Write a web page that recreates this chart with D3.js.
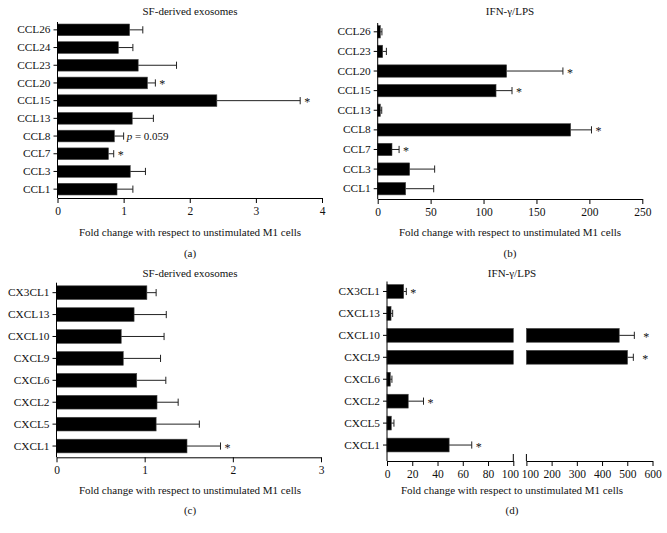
<!DOCTYPE html>
<html><head><meta charset="utf-8">
<script src="https://cdn.jsdelivr.net/npm/d3@7"></script>
<style>
body{margin:0;background:#fff;}
svg{display:block;}
text{font-family:"Liberation Serif","Times New Roman",serif;fill:#111;}
</style></head>
<body>
<svg id="chart" width="667" height="533"></svg>
<script>
// ---------- data ----------
const catsA = ["CCL26","CCL24","CCL23","CCL20","CCL15","CCL13","CCL8","CCL7","CCL3","CCL1"];
const valsA = [1.09,0.92,1.22,1.36,2.41,1.13,0.86,0.77,1.10,0.90];
const errA  = [1.29,1.14,1.80,1.48,3.67,1.45,1.00,0.85,1.33,1.14];
const noteA = ["","","","*","*","","p = 0.059","*","",""];
const ticksA = [0,1,2,3,4];

const catsB = ["CCL26","CCL23","CCL20","CCL15","CCL13","CCL8","CCL7","CCL3","CCL1"];
const valsB = [2.5,4.7,121.8,111.8,2.5,182.3,13.5,30.2,26.4];
const errB  = [4.0,8.2,175,126.9,3.8,202,20.2,53.8,52.9];
const noteB = ["","","*","*","","*","*","",""];
const ticksB = [0,50,100,150,200,250];

const catsC = ["CX3CL1","CXCL13","CXCL10","CXCL9","CXCL6","CXCL2","CXCL5","CXCL1"];
const valsC = [1.025,0.88,0.734,0.757,0.91,1.14,1.13,1.48];
const errC  = [1.13,1.245,1.22,1.18,1.24,1.38,1.62,1.86];
const noteC = ["","","","","","","","*"];
const ticksC = [0,1,2,3];

const catsD = ["CX3CL1","CXCL13","CXCL10","CXCL9","CXCL6","CXCL2","CXCL5","CXCL1"];
const valsD = [13.2,3.2,468,501,2.6,16.8,3.4,49.2];
const errD  = [15.3,4.5,528,524,3.9,28.9,5.5,67.1];
const noteD = ["*","","*","*","","*","","*"];
const ticksDLow = [0,20,40,60,80,100];
const ticksDHigh = [100,200,300,400,500,600];

const titles = ["SF-derived exosomes","IFN-\u03b3/LPS","SF-derived exosomes","IFN-\u03b3/LPS"];
const letters = ["(a)","(b)","(c)","(d)"];
const xTitle = "Fold change with respect to unstimulated M1 cells";

// ---------- drawing ----------
const svg = d3.select("#chart");
const FS = 11;

function drawPanel(o){
  const g = svg.append("g");
  const y = d3.scaleBand().domain(o.cats).range(o.yRange).paddingInner(o.pad).paddingOuter(o.pad/2);
  const bh = y.bandwidth();
  const xs = o.xs;
  o.cats.forEach((c,i)=>{
    const v = o.vals[i];
    const segs = o.segments ? o.segments(v) : [[0,v]];
    segs.forEach(s=>{
      g.append("rect").attr("x",xs(s[0])).attr("y",y(c)).attr("width",Math.max(0.8,xs(s[1])-xs(s[0]))).attr("height",bh)
        .attr("fill","#000").attr("stroke","#444").attr("stroke-width",0.6);
    });
    const cy = y(c)+bh/2;
    const xe = xs(o.errs[i]);
    g.append("line").attr("x1",xs(v)).attr("x2",xe).attr("y1",cy).attr("y2",cy).attr("stroke","#222").attr("stroke-width",1);
    g.append("line").attr("x1",xe).attr("x2",xe).attr("y1",cy-3.6).attr("y2",cy+3.6).attr("stroke","#222").attr("stroke-width",1);
    const n = o.notes[i];
    if(n){
      if(n==="*"){
        g.append("text").attr("x",xe+(o.starOff?o.starOff(i):4)).attr("y",cy+5.5).attr("font-size",12).attr("fill","#555").text("*");
      } else {
        const t = g.append("text").attr("x",xe+3).attr("y",cy+4).attr("font-size",FS);
        t.append("tspan").attr("font-style","italic").text(n.split(" ")[0]);
        t.append("tspan").text(" "+n.split(" ").slice(1).join(" "));
      }
    }
  });
  const ya = g.append("g").attr("transform",`translate(${o.x0},0)`).call(d3.axisLeft(y).tickSize(4).tickPadding(3).tickSizeOuter(0));
  ya.select(".domain").remove();
  ya.selectAll("text").attr("font-size",FS+0.3).attr("fill","#111").style("font-family","Liberation Serif");
  g.append("line").attr("x1",o.x0).attr("x2",o.x0).attr("y1",o.yRange[0]+1).attr("y2",o.axisY).attr("stroke","#000");
  o.xAxes.forEach(a=>{
    const xa = g.append("g").attr("transform",`translate(0,${o.axisY})`)
      .call(d3.axisBottom(a.scale).tickValues(a.ticks).tickSize(5).tickPadding(4).tickSizeOuter(0).tickFormat(d3.format("d")));
    xa.selectAll("text").attr("font-size",FS+0.5).attr("fill","#111").style("font-family","Liberation Serif");
    xa.select(".domain").attr("stroke","#000");
    if(a.anchorEdge){
      // the two "100" labels at the break sit edge to edge
      xa.selectAll(".tick").filter(d=>d===a.edgeValue).select("text")
        .attr("text-anchor",a.anchorEdge).attr("dx",a.anchorEdge==="end"?"0.45em":"-0.45em");
    }
  });
  if(o.breaks){
    o.breaks.forEach(bx=>{
      g.append("line").attr("x1",bx).attr("x2",bx).attr("y1",o.axisY-7).attr("y2",o.axisY).attr("stroke","#000");
    });
  }
  g.append("text").attr("x",o.cx).attr("y",o.titleY).attr("text-anchor","middle").attr("font-size",FS).text(o.title);
  g.append("text").attr("x",o.cx).attr("y",o.labelY).attr("text-anchor","middle").attr("font-size",FS).text(xTitle);
  g.append("text").attr("x",o.cx).attr("y",o.letterY).attr("text-anchor","middle").attr("font-size",FS).text(o.letter);
}

// (a)
const xA = d3.scaleLinear().domain([0,4]).range([57.5,322]);
drawPanel({cats:catsA,vals:valsA,errs:errA,notes:noteA,pad:0.34,yRange:[21,198],axisY:198,x0:57.5,
  xs:xA,xAxes:[{scale:xA,ticks:ticksA}],cx:190,titleY:15,labelY:236,letterY:257,title:titles[0],letter:letters[0]});

// (b)
const xB = d3.scaleLinear().domain([0,250]).range([377.7,642.3]);
drawPanel({cats:catsB,vals:valsB,errs:errB,notes:noteB,pad:0.37,yRange:[22,198.5],axisY:199,x0:377.7,
  xs:xB,xAxes:[{scale:xB,ticks:ticksB}],cx:510,titleY:15,labelY:236,letterY:257,title:titles[1],letter:letters[1]});

// (c)
const xC = d3.scaleLinear().domain([0,3]).range([56.5,321]);
drawPanel({cats:catsC,vals:valsC,errs:errC,notes:noteC,pad:0.375,yRange:[281.7,457],axisY:457.3,x0:56.5,
  xs:xC,xAxes:[{scale:xC,ticks:ticksC}],cx:190,titleY:277,labelY:494,letterY:514,title:titles[2],letter:letters[2]});

// (d) broken axis
const xDLow = d3.scaleLinear().domain([0,100]).range([387,513.3]);
const xDHigh = d3.scaleLinear().domain([100,600]).range([526.4,652.5]);
const xD = v => v<=100 ? xDLow(v) : xDHigh(v);
drawPanel({cats:catsD,vals:valsD,errs:errD,notes:noteD,pad:0.37,yRange:[280.5,456],axisY:461,x0:387,
  xs:xD,segments:v=> v<=100 ? [[0,v]] : [[0,100],[100.0001,v]],
  starOff:i=> valsD[i]>100 ? 9 : 4,
  xAxes:[{scale:xDLow,ticks:ticksDLow,anchorEdge:"end",edgeValue:100},{scale:xDHigh,ticks:ticksDHigh,anchorEdge:"start",edgeValue:100}],
  breaks:[513.3,526.4],
  cx:512,titleY:277,labelY:494,letterY:514,title:titles[3],letter:letters[3]});
</script>
</body></html>
